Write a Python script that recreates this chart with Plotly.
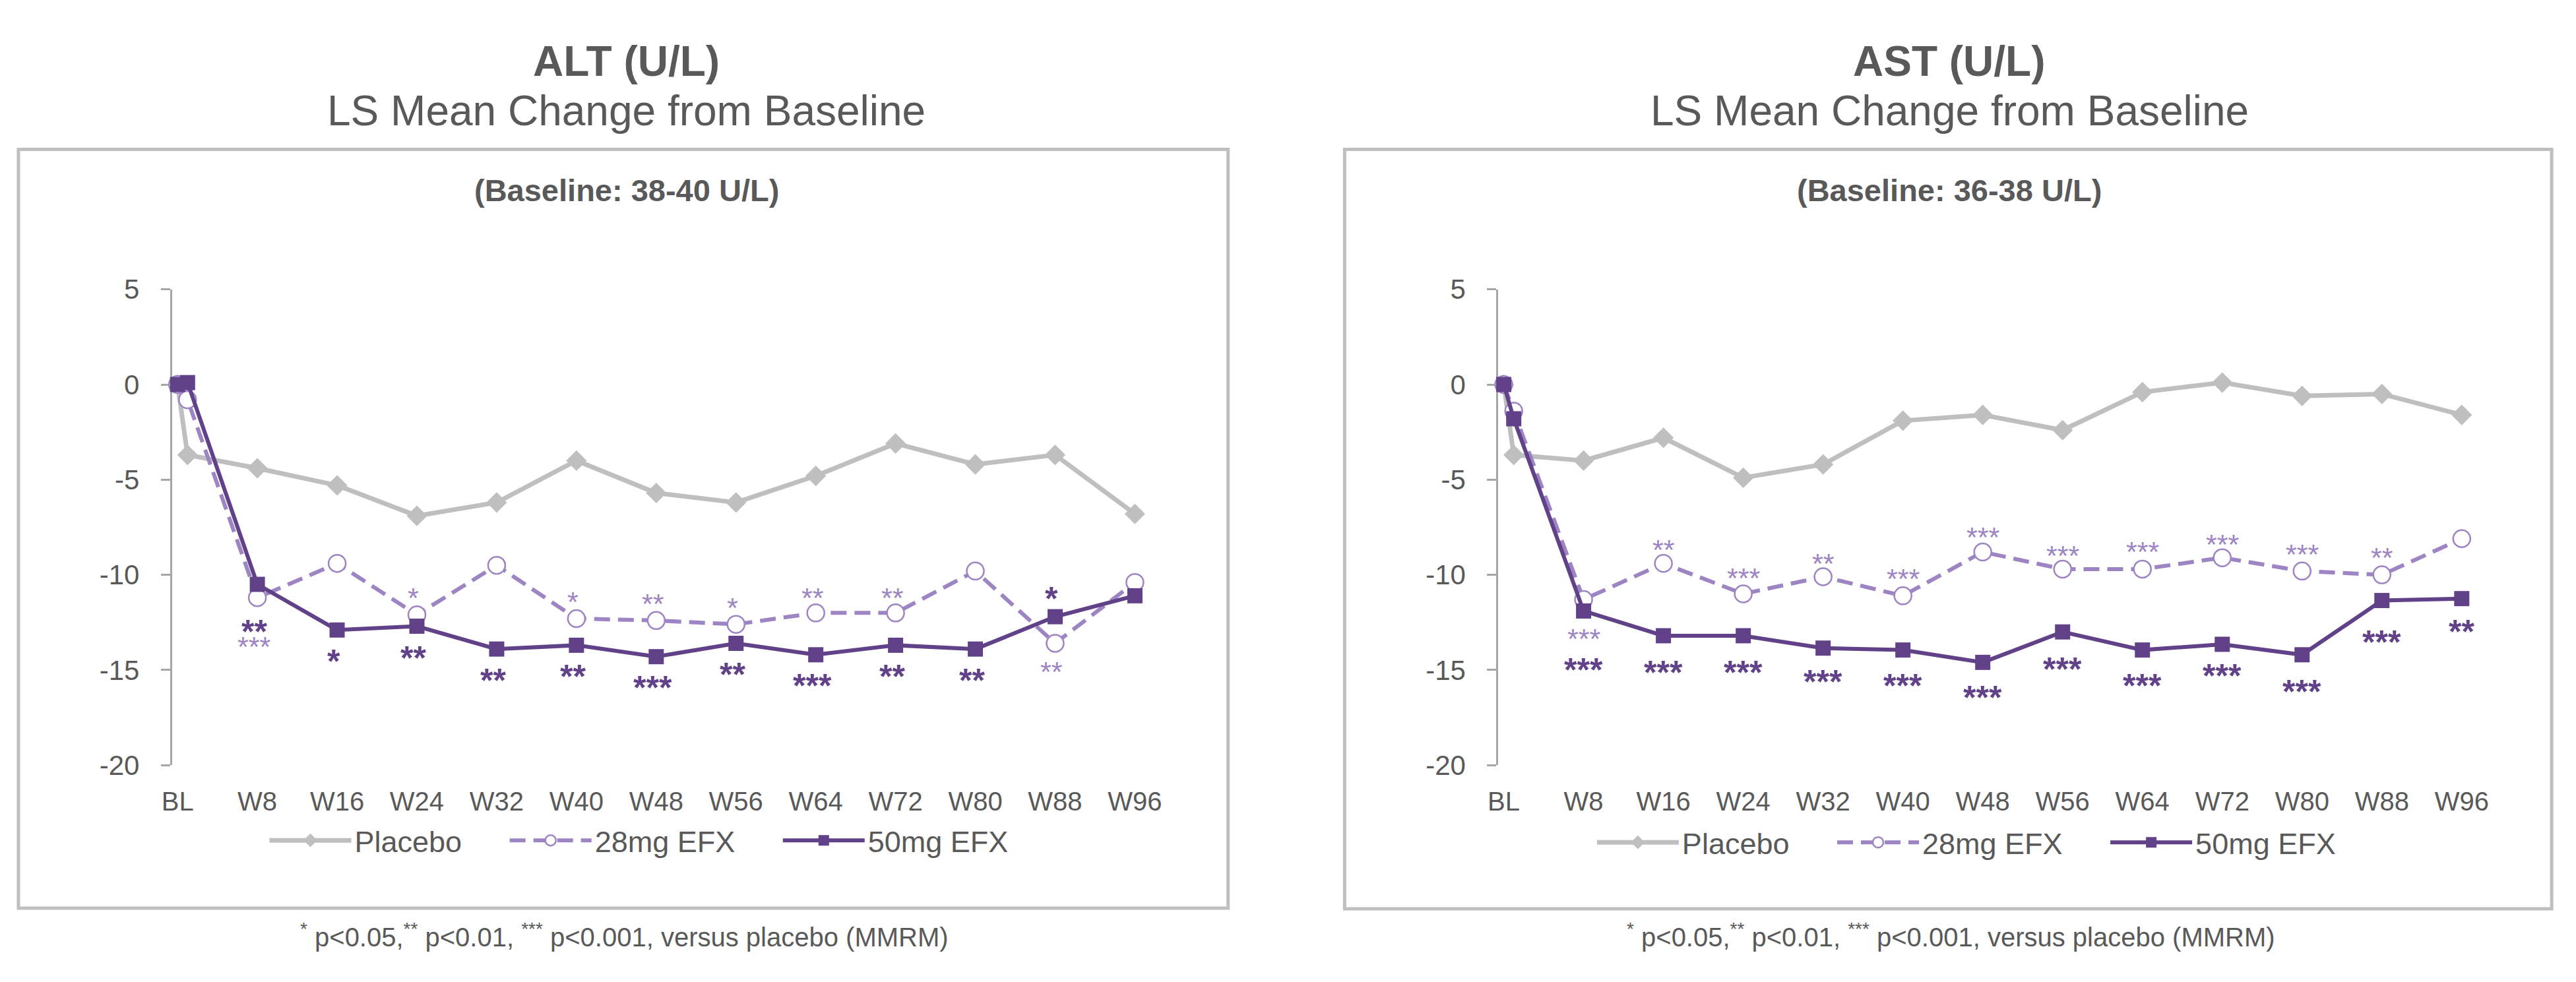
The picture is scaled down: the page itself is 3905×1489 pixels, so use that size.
import plotly.graph_objects as go

# ---------------- data ----------------
weeks = [0, 1, 8, 16, 24, 32, 40, 48, 56, 64, 72, 80, 88, 96]
week_ticks = [0, 8, 16, 24, 32, 40, 48, 56, 64, 72, 80, 88, 96]
week_labels = ["BL", "W8", "W16", "W24", "W32", "W40", "W48", "W56",
               "W64", "W72", "W80", "W88", "W96"]
y_ticks = [5, 0, -5, -10, -15, -20]
y_tick_labels = ["5", "0", "-5", "-10", "-15", "-20"]
series_names = ["Placebo", "28mg EFX", "50mg EFX"]

alt_placebo = [0, -3.7, -4.4, -5.3, -6.9, -6.2, -4.0, -5.7, -6.2, -4.8, -3.1, -4.2, -3.7, -6.8]
alt_28 = [0, -0.8, -11.2, -9.4, -12.1, -9.5, -12.3, -12.4, -12.6, -12.0, -12.0, -9.8, -13.6, -10.4]
alt_50 = [0, 0.1, -10.5, -12.9, -12.7, -13.9, -13.7, -14.3, -13.6, -14.2, -13.7, -13.9, -12.2, -11.1]

ast_placebo = [0, -3.7, -4.0, -2.8, -4.9, -4.2, -1.9, -1.6, -2.4, -0.4, 0.1, -0.6, -0.5, -1.6]
ast_28 = [0, -1.4, -11.3, -9.4, -11.0, -10.1, -11.1, -8.8, -9.7, -9.7, -9.1, -9.8, -10.0, -8.1]
ast_50 = [0, -1.8, -11.9, -13.2, -13.2, -13.85, -13.95, -14.6, -13.0, -13.95, -13.65, -14.2, -11.35, -11.25]

alt_28_sig = ["", "", "***", "", "*", "", "*", "**", "*", "**", "**", "", "**", ""]
alt_50_sig = ["", "", "**", "*", "**", "**", "**", "***", "**", "***", "**", "**", "*", ""]
ast_28_sig = ["", "", "***", "**", "***", "**", "***", "***", "***", "***", "***", "***", "**", ""]
ast_50_sig = ["", "", "***", "***", "***", "***", "***", "***", "***", "***", "***", "***", "***", "**"]

titles = ["<b>ALT (U/L)</b>", "<b>AST (U/L)</b>"]
subtitle = "LS Mean Change from Baseline"
baselines = ["<b>(Baseline: 38-40 U/L)</b>", "<b>(Baseline: 36-38 U/L)</b>"]
footnote = ("<sup>*</sup> p&lt;0.05,<sup>**</sup> p&lt;0.01, <sup>***</sup> p&lt;0.001, "
            "versus placebo (MMRM)")

# ---------------- placement (px, + = above the point) ----------------
alt_28_off = [0, 0, -64, 0, 36, 0, 36, 36, 36, 33, 33, 0, -33, 0]
alt_50_off = [0, 0, -60, -36, -37, -36, -36, -36, -36, -36, -36, -36, 39, 0]
ast_28_off = [0, 0, -49, 31, 34, 30, 36, 33, 31, 37, 31, 36, 36, 0]
ast_50_off = [0, 0, -78, -45, -45, -40, -43, -42, -45, -43, -37, -45, -52, -39]

# ---------------- styles ----------------
FONT = "Liberation Sans, Arial, sans-serif"
TXT = "#595959"
GRAY = "#bfbfbf"
AXC = "#a6a6a6"
LIGHT = "#9d84c3"
DARK = "#614289"
W, H = 3905, 1489

Y_DOM = [1 - 1166 / H, 1 - 421 / H]
X_RANGE = [-0.55, 96.4]
X_DOMS = [[240 / W, 1725 / W], [2277 / W, 3763 / W]]
zero_pos = Y_DOM[0] + (0 - (-20)) / 25 * (Y_DOM[1] - Y_DOM[0])

fig = go.Figure()

panels = [
    dict(pl=alt_placebo, d28=alt_28, d50=alt_50, s28=alt_28_sig, s50=alt_50_sig,
         o28=alt_28_off, o50=alt_50_off, xshift=-5),
    dict(pl=ast_placebo, d28=ast_28, d50=ast_50, s28=ast_28_sig, s50=ast_50_sig,
         o28=ast_28_off, o50=ast_50_off, xshift=0),
]

annotations = []
for i, p in enumerate(panels):
    xa = "x" if i == 0 else "x3"
    ya = "y" if i == 0 else "y2"
    lg = "legend" if i == 0 else "legend2"
    pad = "\u00a0" * 5
    fig.add_trace(go.Scatter(
        x=weeks, y=p["pl"], name=series_names[0] + pad, mode="lines+markers",
        line=dict(color=GRAY, width=7),
        marker=dict(symbol="diamond", size=24, color=GRAY),
        xaxis=xa, yaxis=ya, legend=lg, cliponaxis=False))
    fig.add_trace(go.Scatter(
        x=weeks, y=p["d28"], name=series_names[1] + pad, mode="lines+markers",
        line=dict(color=LIGHT, width=6, dash="24px,12px"),
        marker=dict(symbol="circle", size=26, color="white",
                    line=dict(color=LIGHT, width=2.5)),
        xaxis=xa, yaxis=ya, legend=lg, cliponaxis=False))
    fig.add_trace(go.Scatter(
        x=weeks, y=p["d50"], name=series_names[2], mode="lines+markers",
        line=dict(color=DARK, width=6),
        marker=dict(symbol="square", size=23, color=DARK),
        xaxis=xa, yaxis=ya, legend=lg, cliponaxis=False))

    for vals, sigs, offs, col, fs, bold in [
        (p["d28"], p["s28"], p["o28"], LIGHT, 43, False),
        (p["d50"], p["s50"], p["o50"], DARK, 50, True),
    ]:
        for wk, v, s, o in zip(weeks, vals, sigs, offs):
            if not s:
                continue
            annotations.append(dict(
                x=wk, y=v, xref=xa, yref=ya, text=("<b>%s</b>" % s) if bold else s,
                showarrow=False, xanchor="center", yanchor="middle",
                yshift=o - 0.23 * fs, xshift=p["xshift"],
                font=dict(family=FONT, size=fs, color=col)))

# titles and footnotes
centers = [938 / W, 2970 / W]
for i in range(2):
    annotations.append(dict(x=centers[i], y=1 - 64 / H, xref="paper", yref="paper",
                            text=titles[i], showarrow=False, xanchor="center", yanchor="middle",
                            font=dict(family=FONT, size=64, color=TXT)))
    annotations.append(dict(x=centers[i], y=1 - 141 / H, xref="paper", yref="paper",
                            text=subtitle, showarrow=False, xanchor="center", yanchor="middle",
                            font=dict(family=FONT, size=64, color=TXT)))
    annotations.append(dict(x=centers[i], y=1 - 266 / H, xref="paper", yref="paper",
                            text=baselines[i], showarrow=False, xanchor="center", yanchor="middle",
                            font=dict(family=FONT, size=47, color=TXT)))
    annotations.append(dict(x=[935 / W, 2972 / W][i], y=1 - 1460 / H, xref="paper", yref="paper",
                            text=footnote, showarrow=False, xanchor="center", yanchor="bottom",
                            font=dict(family=FONT, size=40, color=TXT)))

shapes = [
    dict(type="rect", xref="paper", yref="paper", x0=4 / W, x1=1862 / W,
         y0=1 - 1390 / H, y1=1 - 202 / H, line=dict(color=GRAY, width=5), layer="below"),
    dict(type="rect", xref="paper", yref="paper", x0=2041 / W, x1=3895 / W,
         y0=1 - 1391 / H, y1=1 - 202 / H, line=dict(color=GRAY, width=5), layer="below"),
]


def label_xaxis(dom, anchor):
    return dict(domain=dom, range=X_RANGE, anchor=anchor, tickmode="array",
                tickvals=week_ticks, ticktext=week_labels, ticks="", showline=False,
                showgrid=False, zeroline=False, ticklabelstandoff=28,
                tickfont=dict(family=FONT, size=40, color=TXT))


def zero_xaxis(base):
    return dict(overlaying=base, anchor="free", position=zero_pos, range=X_RANGE,
                tickmode="linear", tick0=-0.5, dtick=4, ticks="outside", ticklen=11,
                tickwidth=4, tickcolor=AXC, showline=True, linecolor=AXC, linewidth=5,
                showticklabels=False, showgrid=False, zeroline=False, side="bottom",
                layer="below traces")


def yax(anchor):
    return dict(domain=Y_DOM, range=[-20, 5], anchor=anchor, tickmode="array",
                tickvals=y_ticks, ticktext=y_tick_labels, ticks="outside", ticklen=14,
                tickwidth=3, tickcolor=AXC, showline=True, linecolor=AXC, linewidth=3,
                showgrid=False, zeroline=False, ticklabelstandoff=24,
                tickfont=dict(family=FONT, size=42, color=TXT), layer="below traces")


legend_common = dict(orientation="h", xanchor="center", yanchor="middle",
                     itemwidth=124, bgcolor="rgba(0,0,0,0)",
                     font=dict(family=FONT, size=45, color=TXT))

fig.update_layout(
    width=W, height=H,
    margin=dict(l=0, r=0, t=0, b=0),
    paper_bgcolor="white", plot_bgcolor="white",
    font=dict(family=FONT, color=TXT),
    xaxis=label_xaxis(X_DOMS[0], "y"),
    xaxis2=zero_xaxis("x"),
    xaxis3=label_xaxis(X_DOMS[1], "y2"),
    xaxis4=zero_xaxis("x3"),
    yaxis=yax("x"),
    yaxis2=yax("x3"),
    legend=dict(x=957 / W, y=1 - 1284 / H, **legend_common),
    legend2=dict(x=2996 / W, y=1 - 1287 / H, **legend_common),
    annotations=annotations,
    shapes=shapes,
    showlegend=True,
)

fig.write_html("out.html")
